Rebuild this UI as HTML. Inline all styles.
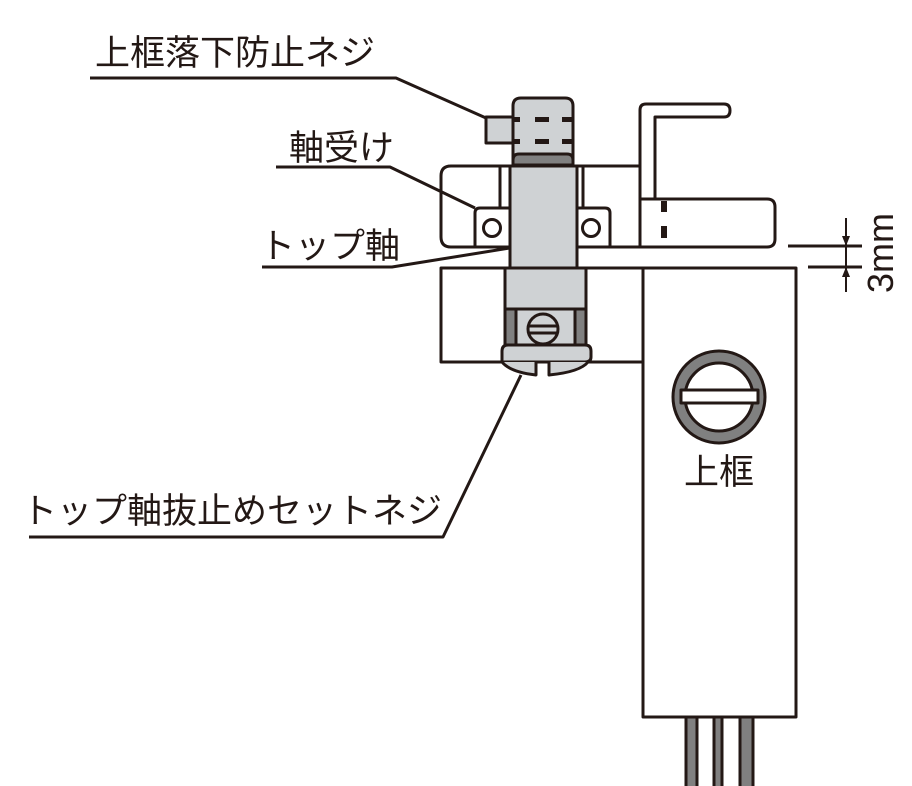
<!DOCTYPE html>
<html><head><meta charset="utf-8"><style>
html,body{margin:0;padding:0;background:#fff;}
svg{display:block;}
text{font-family:"Liberation Sans","Noto Sans CJK JP",sans-serif;fill:#231815;}
</style></head><body>
<svg width="912" height="786" viewBox="0 0 912 786" xmlns="http://www.w3.org/2000/svg">
<g stroke="#231815" stroke-width="3" fill="none" stroke-linejoin="round">
<!-- upper bracket -->
<path d="M640,166 L451,166 Q441,166 441,176 L441,237 Q441,247 451,247 L640,247" fill="#fff"/>
<line x1="500" y1="166" x2="500" y2="208"/>
<line x1="583" y1="166" x2="583" y2="208"/>
<!-- handle -->
<path d="M640,200 L640,110 Q640,104 646,104 L724,104 Q730,104 730,110.5 Q730,117 724,117 L655,117 L655,200" fill="#fff"/>
<!-- right piece -->
<path d="M640,199 L767,199 Q775,199 775,207 L775,239 Q775,247 767,247 L640,247 Z" fill="#fff"/>
<!-- ears -->
<path d="M510,208 L480,208 Q475,208 475,213 L475,247 L510,247 Z" fill="#fff"/>
<circle cx="492" cy="228" r="8.5" fill="#fff"/>
<path d="M577,208 L605,208 Q610,208 610,213 L610,247 L577,247 Z" fill="#fff"/>
<circle cx="591" cy="228" r="8.5" fill="#fff"/>
<!-- lower frame box -->
<rect x="441" y="268" width="202" height="94" fill="#fff"/>
<!-- upright -->
<rect x="643" y="268" width="153" height="449" fill="#fff"/>
<!-- legs -->
<rect x="686" y="717" width="11" height="72" fill="#808080"/>
<rect x="714" y="717" width="8" height="72" fill="#808080"/>
<rect x="740" y="717" width="13" height="72" fill="#808080"/>
<!-- big screw -->
<circle cx="719" cy="397" r="46" fill="#808080"/>
<circle cx="719" cy="397" r="34" fill="#fff"/>
<rect x="681" y="390" width="77" height="13" fill="#fff"/>
<!-- shaft -->
<rect x="510" y="166" width="67" height="102" fill="#cfd2d4"/>
<!-- cap -->
<rect x="486" y="117" width="27" height="26" fill="#cfd2d4"/>
<path d="M513,165 L513,106 Q513,98 521,98 L565,98 Q573,98 573,106 L573,165 Z" fill="#cfd2d4"/>
<path d="M513,165 L513,160 Q513,154 519,154 L567,154 Q573,154 573,160 L573,165 Z" fill="#808080"/>
<!-- lower shaft -->
<rect x="505" y="268" width="81" height="41" fill="#cfd2d4"/>
<rect x="505" y="309" width="81" height="36" fill="#cfd2d4"/>
<rect x="505" y="309" width="11" height="36" fill="#808080"/>
<rect x="575" y="309" width="11" height="36" fill="#808080"/>
<circle cx="543" cy="329" r="15" fill="#cfd2d4"/>
<line x1="528" y1="326" x2="558" y2="326"/>
<line x1="528" y1="333" x2="558" y2="333"/>
<!-- flange -->
<path d="M502,362 L502,351 Q502,345 508,345 L585,345 Q591,345 591,351 L591,357 Q591,362 585,362 Z" fill="#cfd2d4"/>
<path d="M502,362 Q510,372 536,375 L536,362 M549,362 L549,375 Q580,372 588,362" fill="#cfd2d4"/>
<!-- dimension -->
<line x1="788" y1="246" x2="862" y2="246"/>
<line x1="808" y1="267" x2="862" y2="267"/>
<line x1="846" y1="218" x2="846" y2="292" stroke-width="2"/>
<!-- leader lines -->
<polyline points="90,78 396,78 486,118"/>
<polyline points="276,167 390,167 475,208"/>
<polyline points="262,267 392,267 510,248"/>
<polyline points="29,537 443,537 521,375"/>
</g>
<g fill="#231815">
<polygon points="842,236 850,236 846,246"/>
<polygon points="842,277 850,277 846,267"/>
<rect x="514" y="117" width="6" height="5"/><rect x="535" y="117" width="14" height="5"/><rect x="562" y="117" width="11" height="5"/>
<rect x="514" y="139" width="6" height="5"/><rect x="535" y="139" width="14" height="5"/><rect x="562" y="139" width="11" height="5"/>
<rect x="661" y="201" width="6" height="11"/><rect x="661" y="226" width="6" height="12"/>
</g>
<text x="95" y="65" font-size="35">上框落下防止ネジ</text>
<text x="289" y="160" font-size="35">軸受け</text>
<text x="260" y="258" font-size="35">トップ軸</text>
<text x="22" y="523" font-size="35">トップ軸抜止めセットネジ</text>
<text x="719" y="484" font-size="35" text-anchor="middle">上框</text>
<text transform="translate(893,253) rotate(-90)" font-size="36" text-anchor="middle">3mm</text>
</svg>
</body></html>
